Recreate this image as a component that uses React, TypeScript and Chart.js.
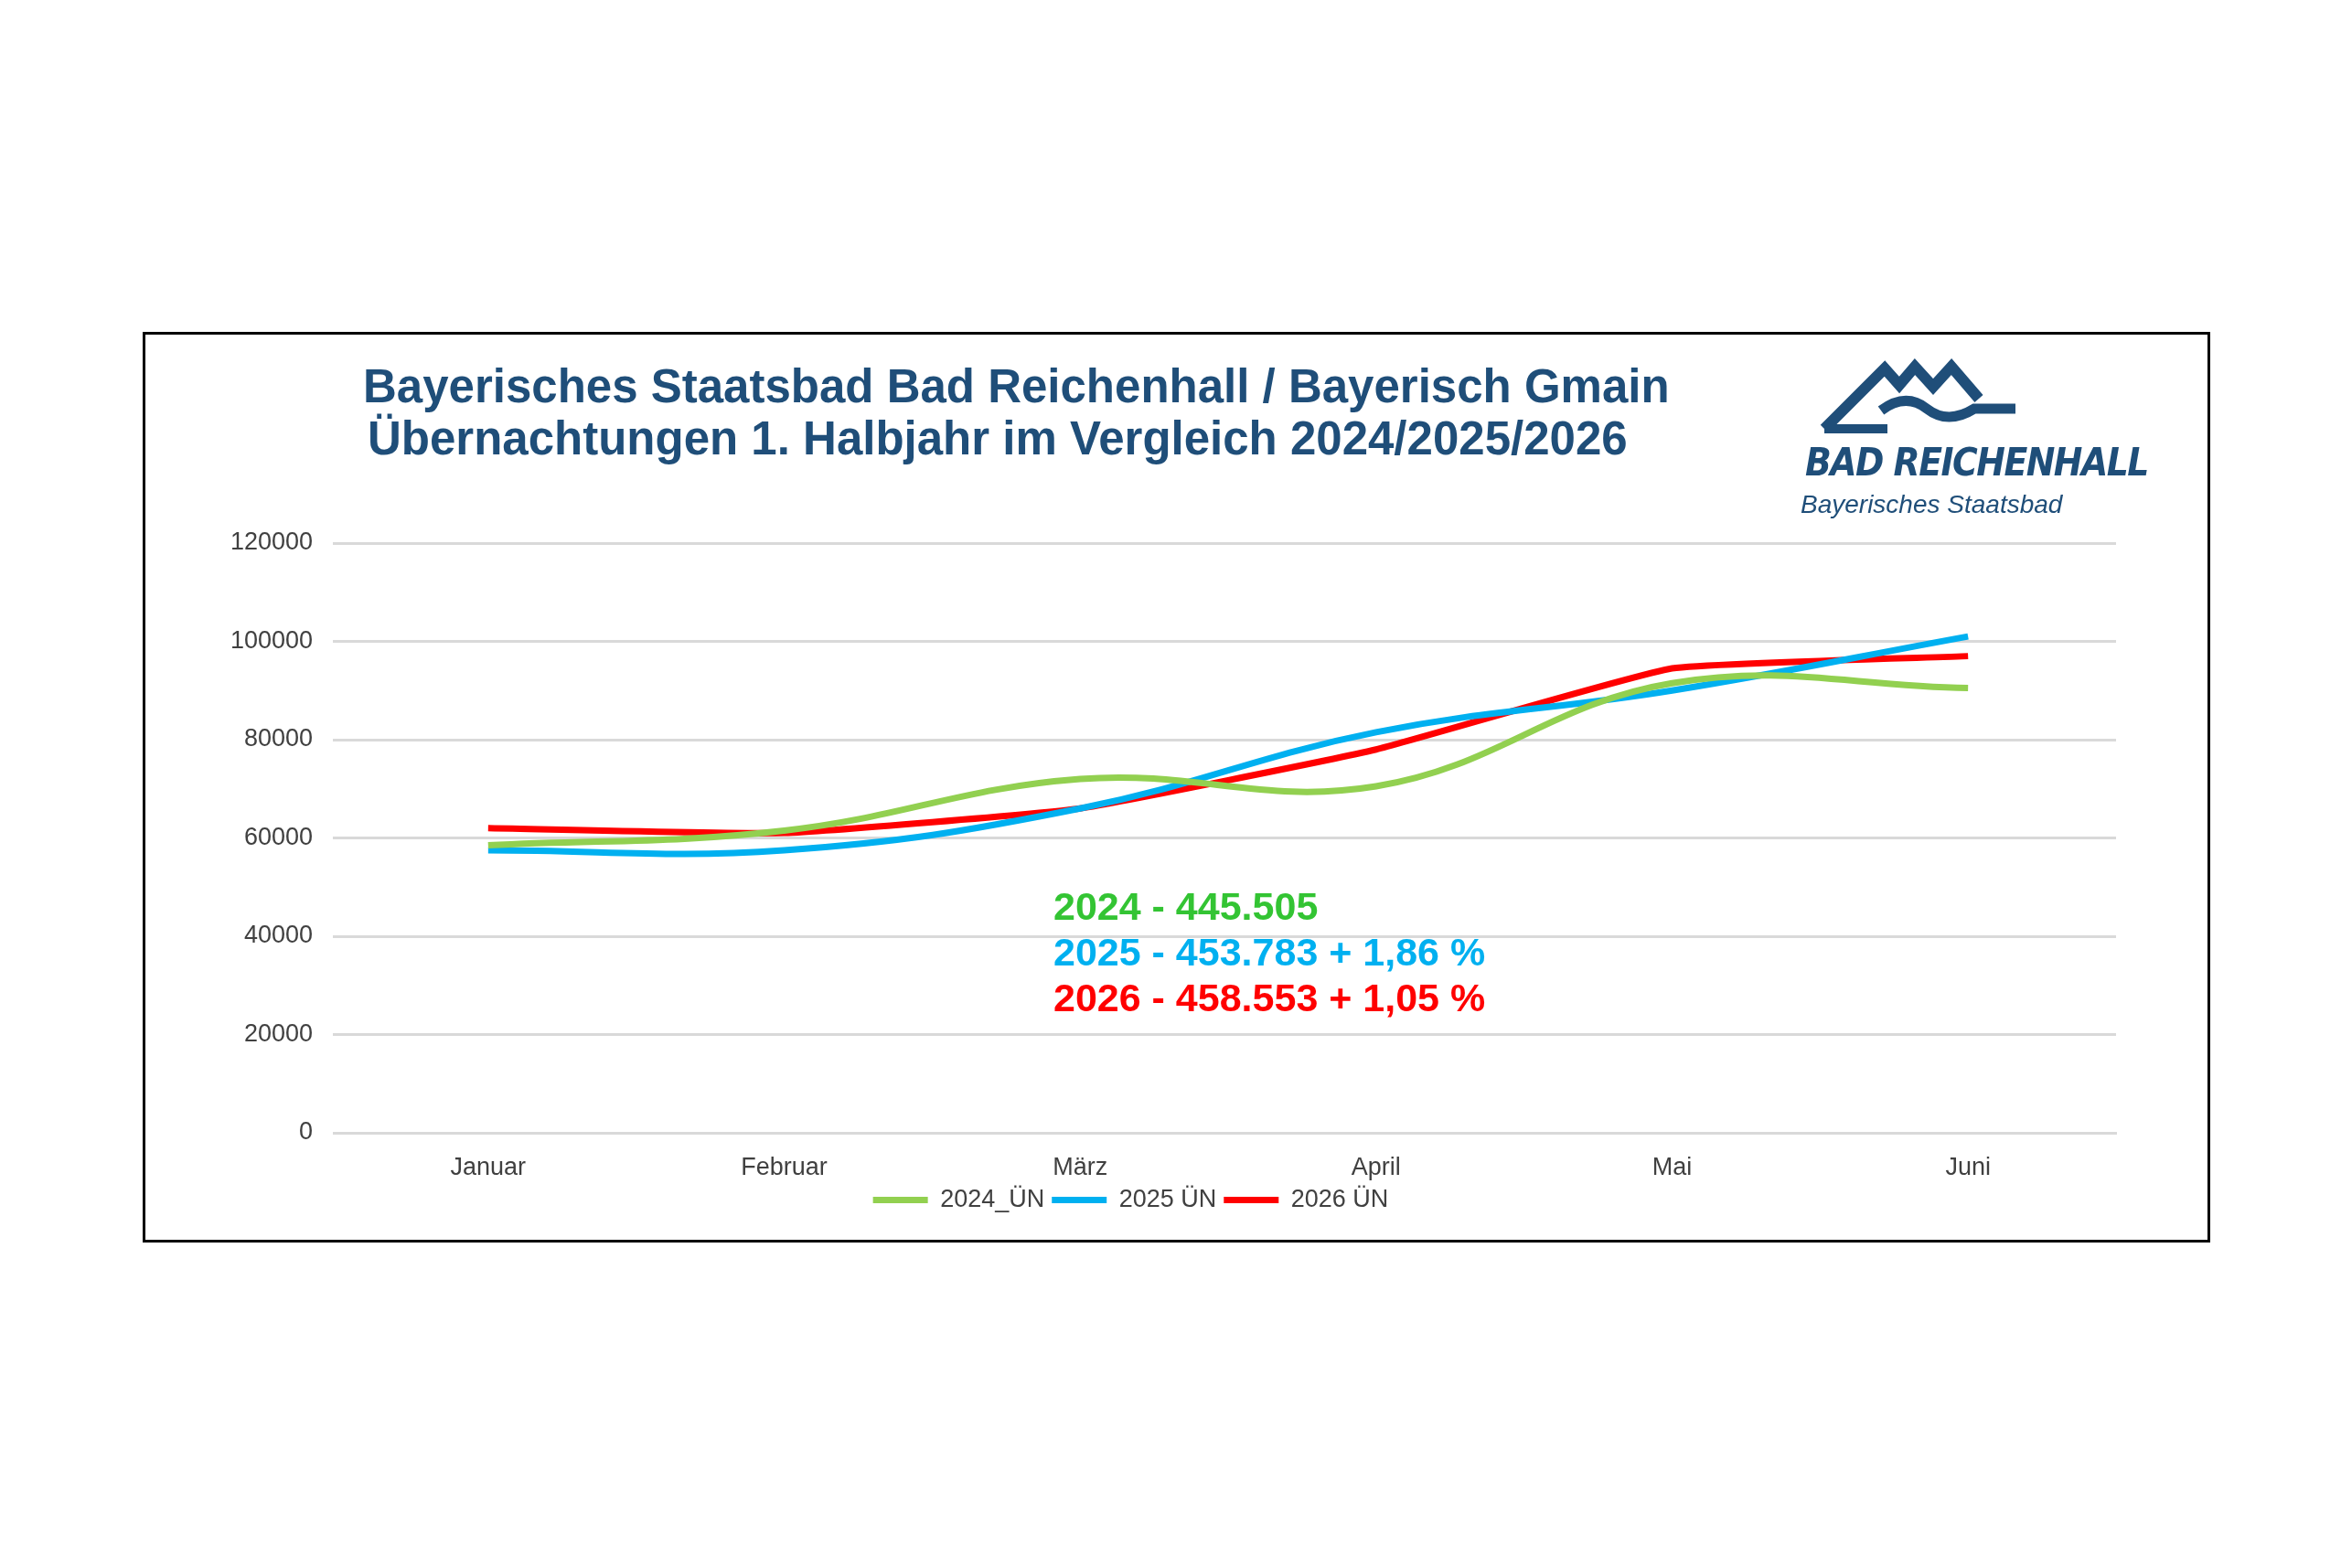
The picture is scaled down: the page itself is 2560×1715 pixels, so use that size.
import React, { useEffect, useRef } from "react";
import { Chart, registerables } from "chart.js";
Chart.register(...registerables);

const months = ["Januar", "Februar", "März", "April", "Mai", "Juni"];
const s2024 = [58500, 61500, 72000, 70500, 91500, 90500];
const s2025 = [57500, 57500, 66000, 81500, 90000, 101000];
const s2026 = [62000, 61000, 66000, 78000, 94500, 97000];
const seriesNames = ["2024_ÜN", "2025 ÜN", "2026 ÜN"];
const totals = ["2024 - 445.505", "2025 - 453.783 + 1,86 %", "2026 - 458.553 + 1,05 %"];

export default function App() {
  const ref = useRef<HTMLCanvasElement>(null);
  useEffect(() => {
    const font = "Arial, 'Liberation Sans', sans-serif";
    const chart = new Chart(ref.current!, {
      type: "line",
      data: {
        labels: months,
        datasets: [
          { label: seriesNames[0], data: s2024, borderColor: "#92D050", backgroundColor: "#92D050", borderWidth: 7, tension: 0.4, pointRadius: 0 },
          { label: seriesNames[1], data: s2025, borderColor: "#00B0F0", backgroundColor: "#00B0F0", borderWidth: 7, tension: 0.4, pointRadius: 0 },
          { label: seriesNames[2], data: s2026, borderColor: "#FF0000", backgroundColor: "#FF0000", borderWidth: 7, tension: 0.12, pointRadius: 0 },
        ],
      },
      options: {
        animation: false,
        responsive: false,
        layout: { padding: { top: 228, right: 100, left: 0, bottom: 20 } },
        plugins: {
          tooltip: { enabled: false },
          legend: {
            position: "bottom",
            labels: {
              usePointStyle: true,
              pointStyle: "line",
              pointStyleWidth: 60,
              color: "#404040",
              font: { family: font, size: 27 },
              padding: 8,
              boxHeight: 7,
            },
          },
        },
        scales: {
          x: {
            offset: true,
            grid: { display: false },
            border: { color: "#D9D9D9", width: 3 },
            ticks: { color: "#404040", font: { family: font, size: 27 }, padding: 14 },
            afterFit: (sc: any) => { sc.height = 52; },
          },
          y: {
            min: 0, max: 120000,
            ticks: { stepSize: 20000, color: "#404040", font: { family: font, size: 27 }, padding: 22, callback: (v: any) => String(v) },
            grid: { color: "#D9D9D9", lineWidth: 3 },
            border: { display: false },
            afterFit: (sc: any) => { sc.width = 213; },
          },
        },
      },
    });
    return () => chart.destroy();
  }, []);

  const font = "Arial, 'Liberation Sans', sans-serif";
  const colors = ["#33C433", "#00B0F0", "#FF0000"];
  return (
    <div style={{ position: "absolute", left: 0, top: 0, width: 2560, height: 1715, background: "#fff", fontFamily: font }}>
      <div style={{ position: "absolute", left: 156, top: 363, width: 2261, height: 996, boxSizing: "border-box", border: "3px solid #000" }}>
        <canvas ref={ref} width={2255} height={990} style={{ position: "absolute", left: 0, top: 0 }} />
        <div style={{ position: "absolute", left: 238, top: 28, color: "#1F4E79", fontWeight: "bold", fontSize: 51, lineHeight: "57px", whiteSpace: "nowrap" }}>
          <div>Bayerisches Staatsbad Bad Reichenhall / Bayerisch Gmain</div>
          <div style={{ paddingLeft: 5 }}>Übernachtungen 1. Halbjahr im Vergleich 2024/2025/2026</div>
        </div>
        <div style={{ position: "absolute", left: 1810, top: 20, width: 420 }}>
          <svg width="230" height="85" viewBox="0 0 230 85" style={{ position: "absolute", left: 20, top: 5 }}>
            <path d="M6 78 L72 12 L88 30 L105 10 L125 32 L145 10 L175 45" fill="none" stroke="#1F4E79" strokeWidth="12" strokeLinejoin="miter" />
            <path d="M6 78 L75 78" stroke="#1F4E79" strokeWidth="10" />
            <path d="M68 58 Q95 38 118 56 T170 56 L215 56" fill="none" stroke="#1F4E79" strokeWidth="11" />
          </svg>
          <div style={{ position: "absolute", left: 5, top: 95, color: "#1F4E79", fontWeight: "bold", fontStyle: "italic", fontSize: 42, letterSpacing: -1.5, whiteSpace: "nowrap", fontFamily: "'DejaVu Sans Condensed', Arial, sans-serif" }}>BAD REICHENHALL</div>
          <div style={{ position: "absolute", left: 0, top: 150, color: "#1F4E79", fontStyle: "italic", fontSize: 28, whiteSpace: "nowrap" }}>Bayerisches Staatsbad</div>
        </div>
        <div style={{ position: "absolute", left: 993, top: 600, fontWeight: "bold", fontSize: 43, lineHeight: "50px", whiteSpace: "nowrap" }}>
          {totals.map((t, i) => <div key={i} style={{ color: colors[i] }}>{t}</div>)}
        </div>
      </div>
    </div>
  );
}
